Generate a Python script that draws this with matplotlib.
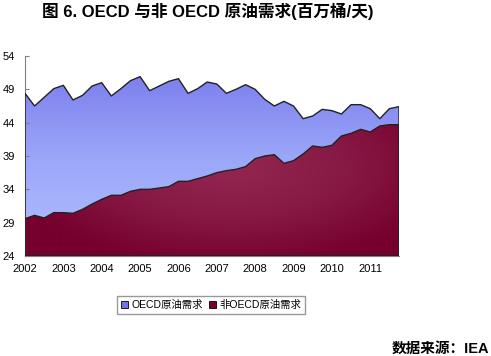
import numpy as np
import matplotlib.pyplot as plt
from matplotlib.colors import LinearSegmentedColormap
from matplotlib.patches import Patch

# quarterly demand, 2002Q1 .. 2011Q4 (million barrels/day)
years = [str(y) for y in range(2002, 2012)]
oecd = [48.4, 46.5, 47.8, 49.1, 49.6, 47.4, 48.1, 49.5, 50.0, 48.0,
        49.1, 50.3, 50.9, 48.8, 49.5, 50.2, 50.6, 48.4, 49.1, 50.1,
        49.8, 48.4, 49.0, 49.7, 49.0, 47.5, 46.5, 47.2, 46.5, 44.6,
        45.0, 46.0, 45.8, 45.3, 46.7, 46.7, 46.1, 44.6, 46.1, 46.4]
non_oecd = [29.6, 30.1, 29.7, 30.5, 30.5, 30.4, 31.0, 31.8, 32.5, 33.1,
            33.1, 33.7, 34.0, 34.0, 34.2, 34.4, 35.2, 35.2, 35.6, 36.0,
            36.5, 36.8, 37.0, 37.4, 38.6, 39.0, 39.2, 37.9, 38.3, 39.3,
            40.5, 40.3, 40.6, 42.0, 42.4, 43.0, 42.6, 43.5, 43.7, 43.7]
yticks = [24, 29, 34, 39, 44, 49, 54]
labels = ['OECD原油需求', '非OECD原油需求']

plt.rcParams['font.family'] = ['Liberation Sans', 'Noto Sans CJK SC']

fig = plt.figure(figsize=(4.91, 3.56), dpi=100)
ax = fig.add_axes([25/491, 1-256/356, 374/491, 200/356])
x = np.arange(len(oecd))
ymin, ymax = yticks[0], yticks[-1]
ext = [x[0], x[-1], ymin, ymax]

# blue area with vertical gradient
fb = ax.fill_between(x, ymin, oecd, facecolor='none', edgecolor='#222222', lw=1.0, zorder=3)
cb = LinearSegmentedColormap.from_list('b', ['#b2c0ff', '#9aa6f8', '#7676ec'])
g = np.linspace(0, 1, 256).reshape(-1, 1)
im = ax.imshow(g, extent=ext, origin='lower', cmap=cb, aspect='auto', zorder=1)
im.set_clip_path(fb.get_paths()[0], ax.transData)

# red area with radial gradient
fr = ax.fill_between(x, ymin, non_oecd, facecolor='none', edgecolor='#222222', lw=1.0, zorder=4)
cr = LinearSegmentedColormap.from_list('r', ['#942652', '#871a45', '#76002e'])
gx, gy = np.meshgrid(np.linspace(0, 1, 300), np.linspace(0, 1, 200))
d = np.sqrt(((gx - 0.55) / 0.6) ** 2 + ((gy - 0.45) / 0.5) ** 2)
im2 = ax.imshow(np.clip(d, 0, 1), extent=ext, origin='lower', cmap=cr, aspect='auto', zorder=2)
im2.set_clip_path(fr.get_paths()[0], ax.transData)

ax.set_xlim(x[0], x[-1])
ax.set_ylim(ymin, ymax)
ax.set_yticks(yticks)
ax.set_xticks(x[::4])
ax.set_xticklabels(years)
for s in ['top', 'right']:
    ax.spines[s].set_visible(False)
for s in ['left', 'bottom']:
    ax.spines[s].set_color('#808080')
ax.tick_params(direction='in', length=3, color='#808080', labelsize=8)
ax.tick_params(axis='y', pad=7)
ax.tick_params(axis='x', pad=6)

handles = [Patch(facecolor='#7474ea', edgecolor='black', lw=0.6),
           Patch(facecolor='#7a0030', edgecolor='black', lw=0.6)]
fig.legend(handles, labels, loc='center', bbox_to_anchor=(211/491, 1-305/356), ncol=2,
           fontsize=7.5, frameon=True, fancybox=False, edgecolor='#808080',
           handlelength=0.7, handleheight=0.7, handletextpad=0.3, columnspacing=0.6,
           borderpad=0.35, borderaxespad=0)

fig.text(208/491, 1-11/356, '图 6. OECD 与非 OECD 原油需求(百万桶/天)', ha='center', va='center',
         fontsize=12, fontweight='bold')
fig.text(489/491, 1-349/356, '数据来源：IEA', ha='right', va='center', fontsize=10.5, fontweight='bold')

fig.savefig('out.png', dpi=100)
